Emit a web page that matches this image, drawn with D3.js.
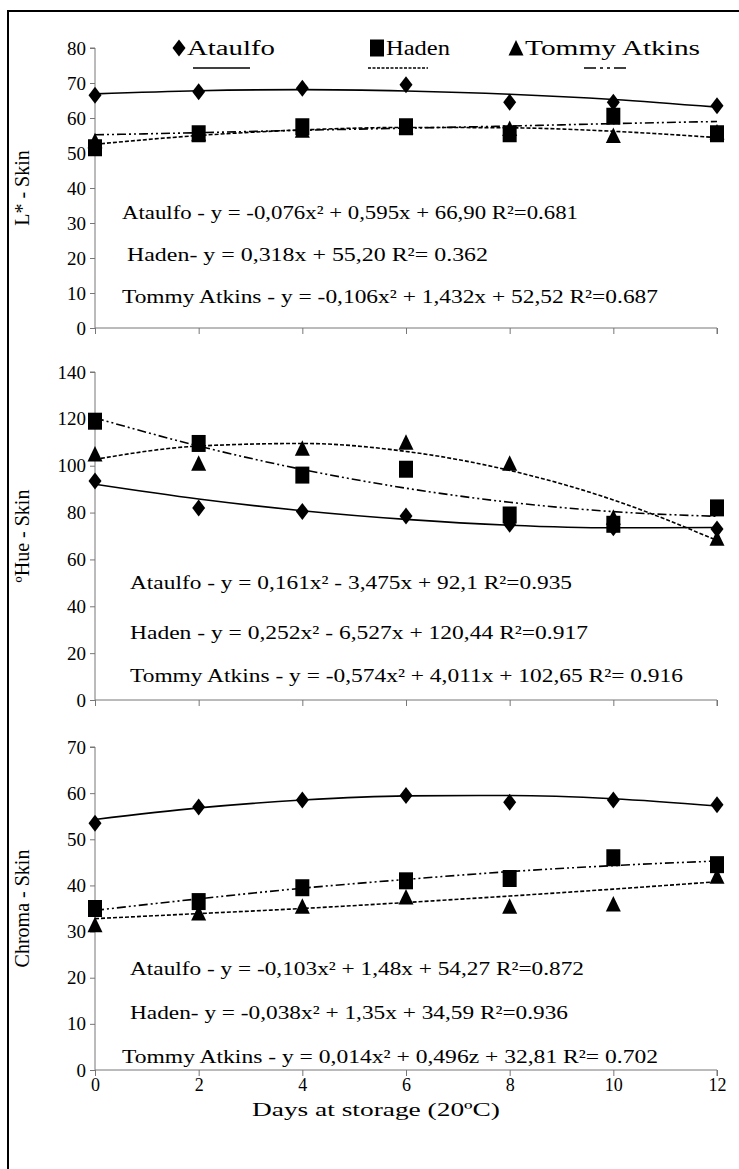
<!DOCTYPE html>
<html><head><meta charset="utf-8">
<script src="https://cdn.jsdelivr.net/npm/d3@7"></script>
<style>body{margin:0;background:#fff}svg{display:block}text{fill:#000}</style>
</head><body><svg id="c" width="739" height="1169"></svg>
<script>
const days = [0, 2, 4, 6, 8, 10, 12];
const cultivars = ["Ataulfo", "Haden", "Tommy Atkins"];
// Panel 1: L*
const lAtaulfo = [66.5, 67.5, 68.5, 69.5, 64.5, 64.5, 63.5];
const lHaden = [51.5, 55.5, 57.5, 57.5, 55.5, 60.5, 55.5];
const lTommy = [53.5, 55.5, 56.5, 57.5, 57, 55, 56];
const lTrendAtaulfo = [66.9, 67.8, 68.1, 67.7, 66.8, 65.3, 63.1];
const lTrendHaden = [55.2, 55.8, 56.5, 57.1, 57.7, 58.4, 59.0];
const lTrendTommy = [52.5, 55.0, 56.6, 57.3, 57.2, 56.2, 54.4];
// Panel 2: Hue
const hAtaulfo = [93.5, 82, 80.5, 78.5, 75, 73.5, 73];
const hHaden = [119, 109.5, 96, 98.5, 79, 75, 82];
const hTommy = [105, 101, 107.5, 110, 101, 78, 69];
const hTrendAtaulfo = [92.1, 85.8, 80.8, 77.1, 74.6, 73.5, 73.6];
const hTrendHaden = [120.4, 108.4, 98.4, 90.4, 84.4, 80.4, 78.4];
const hTrendTommy = [102.7, 108.4, 109.5, 106.1, 98.0, 85.4, 68.1];
// Panel 3: Chroma
const cAtaulfo = [53.5, 57, 58.5, 59.5, 58, 58.5, 57.5];
const cHaden = [35, 36.5, 39.5, 41, 41.5, 46, 44.5];
const cTommy = [31.5, 34, 35.5, 37.5, 35.5, 36, 42];
const cTrendAtaulfo = [54.3, 56.8, 58.5, 59.4, 59.5, 58.8, 57.2];
const cTrendHaden = [34.6, 37.1, 39.4, 41.3, 43.0, 44.3, 45.3];
const cTrendTommy = [32.8, 33.9, 35.0, 36.3, 37.7, 39.2, 40.8];
// Tick labels
const lTicks = [0, 10, 20, 30, 40, 50, 60, 70, 80];
const hTicks = [0, 20, 40, 60, 80, 100, 120, 140];
const cTicks = [0, 10, 20, 30, 40, 50, 60, 70];
const xTicks = [0, 2, 4, 6, 8, 10, 12];
// Equations
const lEquations = ["Ataulfo -  y = -0,076x² + 0,595x + 66,90  R²=0.681", "Haden-  y = 0,318x + 55,20 R²= 0.362", "Tommy Atkins - y = -0,106x² + 1,432x + 52,52 R²=0.687"];
const hEquations = ["Ataulfo - y = 0,161x² - 3,475x + 92,1 R²=0.935", "Haden - y = 0,252x² - 6,527x + 120,44 R²=0.917", "Tommy Atkins  - y = -0,574x² + 4,011x + 102,65 R²= 0.916"];
const cEquations = ["Ataulfo - y = -0,103x² + 1,48x + 54,27 R²=0.872", "Haden- y = -0,038x² + 1,35x + 34,59 R²=0.936", "Tommy Atkins - y = 0,014x² + 0,496z + 32,81 R²= 0.702"];

const SERIF = "'Liberation Serif', 'Times New Roman', 'DejaVu Serif', serif";
const svg = d3.select("#c");
svg.append("rect").attr("x", 8).attr("y", 11).attr("width", 760).attr("height", 1200)
  .attr("fill", "none").attr("stroke", "#000").attr("stroke-width", 2);

const x = d3.scaleLinear().domain([0, 12]).range([95, 717]);

const styles = {
  "Ataulfo": {dash: null, shape: "diamond"},
  "Haden": {dash: "9,3,2,3,2,3", shape: "square"},
  "Tommy Atkins": {dash: "4,2", shape: "triangle"}
};

function marker(g, shape, cx, cy) {
  let p;
  if (shape === "diamond") p = `M${cx},${cy-8.5}L${cx+6.5},${cy}L${cx},${cy+8.5}L${cx-6.5},${cy}Z`;
  else if (shape === "square") p = `M${cx-7},${cy-8.5}h14v17h-14Z`;
  else p = `M${cx},${cy-8}L${cx+7.5},${cy+7.5}L${cx-7.5},${cy+7.5}Z`;
  g.append("path").attr("d", p).attr("fill", "#000");
}

const panels = [
  {domain: [0, 80], range: [328, 48], ticks: lTicks, title: "L* - Skin", series: [lAtaulfo, lHaden, lTommy], trends: [lTrendAtaulfo, lTrendHaden, lTrendTommy], eqs: lEquations, eqPos: [[122, 219, 456], [127, 261, 361], [122, 303, 536]]},
  {domain: [0, 140], range: [700, 372], ticks: hTicks, title: "ºHue - Skin", series: [hAtaulfo, hHaden, hTommy], trends: [hTrendAtaulfo, hTrendHaden, hTrendTommy], eqs: hEquations, eqPos: [[130, 589, 442], [130, 639, 458], [130, 682, 553]]},
  {domain: [0, 70], range: [1070, 747], ticks: cTicks, title: "Chroma - Skin", series: [cAtaulfo, cHaden, cTommy], trends: [cTrendAtaulfo, cTrendHaden, cTrendTommy], eqs: cEquations, eqPos: [[130, 975, 454], [130, 1019, 438], [122, 1063, 536]]}
];

panels.forEach((P, pi) => {
  const y = d3.scaleLinear().domain(P.domain).range(P.range);
  const g = svg.append("g");
  // y axis
  const ya = g.append("g").attr("transform", `translate(${x(0)},0)`)
    .call(d3.axisLeft(y).tickValues(P.ticks).tickSize(5).tickPadding(4));
  ya.select(".domain").attr("stroke", "#777").attr("d", `M-5,${y(P.domain[1])}H0V${y(0)}`);
  ya.selectAll(".tick line").attr("stroke", "#777");
  ya.selectAll(".tick text").attr("font-size", 19).attr("font-family", SERIF).attr("fill", "#000");
  // x axis
  const xa = g.append("g").attr("transform", `translate(0,${y(0)})`)
    .call(d3.axisBottom(x).tickValues(xTicks).tickSize(6).tickPadding(2).tickFormat(pi === 2 ? d3.format("d") : () => ""));
  xa.select(".domain").attr("stroke", "#777").attr("d", `M${x(0)},0H${x(12)}V6`);
  xa.selectAll(".tick line").attr("stroke", "#777");
  xa.selectAll(".tick text").attr("font-size", 18).attr("font-family", SERIF).attr("fill", "#000");
  // title
  const cy = (P.range[0] + P.range[1]) / 2;
  g.append("text").attr("transform", `translate(29,${cy}) rotate(-90)`).attr("text-anchor", "middle")
    .attr("font-family", SERIF).attr("font-size", 20).text(P.title);
  // trend lines
  cultivars.forEach((c, ci) => {
    const line = d3.line().x((d, i) => x(days[i])).y(d => y(d)).curve(d3.curveMonotoneX);
    g.append("path").datum(P.trends[ci]).attr("d", line).attr("fill", "none").attr("stroke", "#000")
      .attr("stroke-width", 1.6).attr("stroke-dasharray", styles[c].dash);
  });
  // markers (draw Tommy, Haden, then Ataulfo)
  [2, 1, 0].forEach(ci => {
    P.series[ci].forEach((v, i) => marker(g, styles[cultivars[ci]].shape, x(days[i]), y(v)));
  });
  // equations
  P.eqs.forEach((t, k) => {
    g.append("text").attr("x", P.eqPos[k][0]).attr("y", P.eqPos[k][1]).attr("font-family", SERIF)
      .attr("font-size", 19).attr("textLength", P.eqPos[k][2]).attr("lengthAdjust", "spacingAndGlyphs").text(t);
  });
});

// x axis title
svg.append("text").attr("x", 376).attr("y", 1116).attr("text-anchor", "middle").attr("font-size", 19)
  .attr("font-family", SERIF).attr("textLength", 248).attr("lengthAdjust", "spacingAndGlyphs").text("Days at storage (20ºC)");

// legend
const leg = svg.append("g");
const legItems = [
  {name: "Ataulfo", mx: 179, tx: 187, tw: 88, lx1: 193, lx2: 250},
  {name: "Haden", mx: 377, tx: 386, tw: 64, lx1: 368, lx2: 428},
  {name: "Tommy Atkins", mx: 516, tx: 525, tw: 175, lx1: 584, lx2: 630}
];
legItems.forEach(L => {
  marker(leg, styles[L.name].shape, L.mx, 48);
  leg.append("text").attr("x", L.tx).attr("y", 55).attr("font-family", SERIF).attr("font-size", 20)
    .attr("textLength", L.tw).attr("lengthAdjust", "spacingAndGlyphs").text(L.name);
  leg.append("line").attr("x1", L.lx1).attr("x2", L.lx2).attr("y1", 68).attr("y2", 68)
    .attr("stroke", "#000").attr("stroke-width", 1.5)
    .attr("stroke-dasharray", L.name === "Haden" ? "3,1.5" : (L.name === "Tommy Atkins" ? "12,4,3,4,3,4" : null));
});
</script></body></html>
